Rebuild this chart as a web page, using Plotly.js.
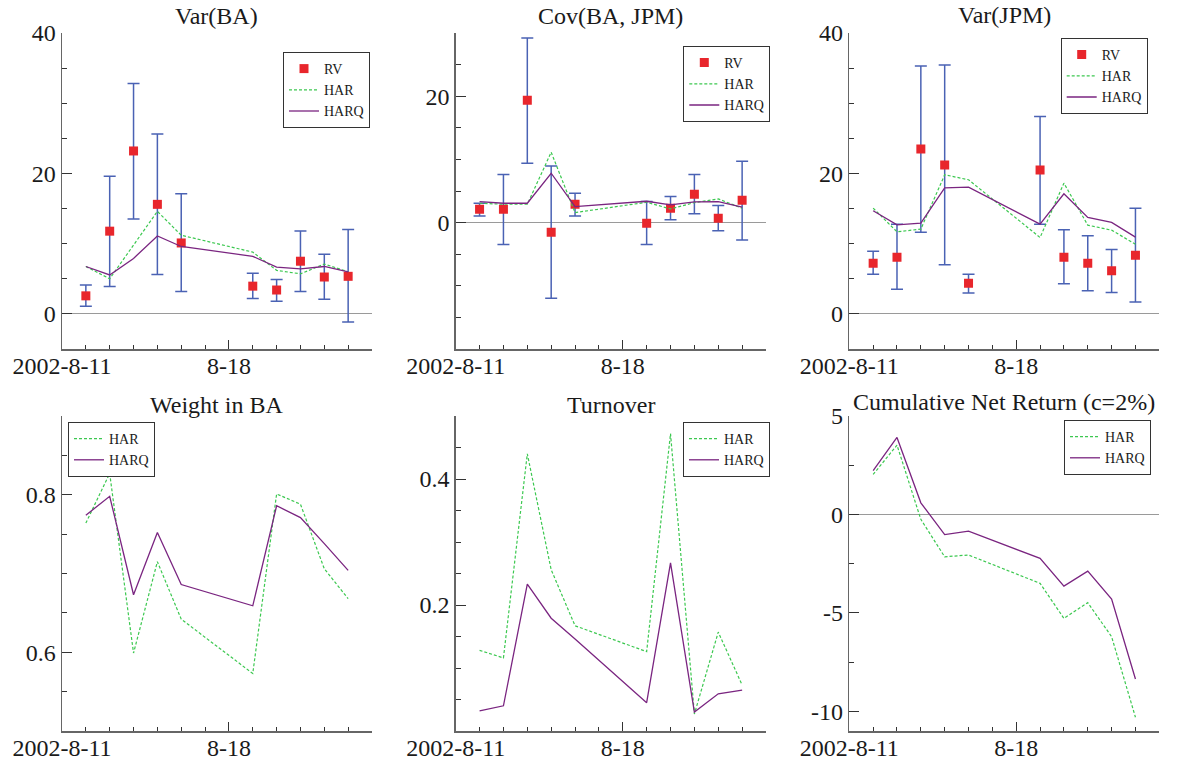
<!DOCTYPE html>
<html>
<head>
<meta charset="utf-8">
<script src="https://cdn.plot.ly/plotly-3.0.1.min.js"></script>
<style>
  html, body { margin: 0; padding: 0; background: #fff; }
  #chart { width: 1179px; height: 765px; }
</style>
</head>
<body>
<div id="chart"></div>
<script>
// ---------- data ----------
const dates = ['2002-08-12','2002-08-13','2002-08-14','2002-08-15','2002-08-16',
               '2002-08-19','2002-08-20','2002-08-21','2002-08-22','2002-08-23'];
const xTickVals = ['2002-08-11', '2002-08-18'];
const xTickText = ['2002-8-11', '8-18'];

// Var(BA)
const rvBA      = [2.57, 11.78, 23.2, 15.6, 10.1, 3.95, 3.4, 7.5, 5.25, 5.35];
const rvBAHigh  = [4.1, 19.6, 32.8, 25.6, 17.1, 5.8, 4.9, 11.8, 8.5, 12.0];
const rvBALow   = [1.1, 3.9, 13.5, 5.6, 3.2, 2.2, 1.8, 3.2, 2.1, -1.15];
const harBA     = [6.75, 5.0, 9.8, 14.6, 11.2, 8.8, 6.2, 5.7, 7.1, 6.0];
const harqBA    = [6.75, 5.55, 7.9, 11.1, 9.6, 8.2, 6.65, 6.4, 6.75, 6.0];

// Cov(BA, JPM)
const rvCov     = [2.11, 2.11, 19.37, -1.53, 2.9, -0.1, 2.27, 4.49, 0.69, 3.54];
const rvCovHigh = [3.06, 7.6, 29.2, 8.97, 4.64, 3.32, 4.12, 7.6, 2.69, 9.71];
const rvCovLow  = [1.06, -3.48, 9.39, -11.98, 1.06, -3.48, 0.47, 1.42, -1.27, -2.74];
const harCov    = [3.06, 2.9, 2.9, 11.13, 1.58, 3.22, 2.16, 3.17, 3.75, 2.27];
const harqCov   = [3.32, 3.06, 3.06, 7.81, 2.53, 3.38, 2.8, 3.27, 3.32, 2.43];

// Var(JPM)
const rvJPM     = [7.22, 8.08, 23.47, 21.19, 4.37, 20.48, 8.08, 7.22, 6.13, 8.36];
const rvJPMHigh = [8.93, 12.78, 35.3, 35.44, 5.65, 28.12, 11.97, 11.12, 9.17, 15.06];
const rvJPMLow  = [5.65, 3.52, 11.64, 6.98, 2.99, 12.78, 4.28, 3.28, 3.04, 1.71];
const harJPM    = [15.06, 11.69, 12.07, 19.81, 19.1, 10.88, 18.62, 12.64, 11.92, 9.93];
const harqJPM   = [14.68, 12.68, 12.92, 17.96, 18.05, 12.78, 17.1, 13.73, 13.02, 10.93];

// Weight in BA
const harWeight  = [0.764, 0.827, 0.599, 0.715, 0.642, 0.573, 0.801, 0.788, 0.706, 0.668];
const harqWeight = [0.774, 0.798, 0.673, 0.752, 0.686, 0.659, 0.786, 0.771, 0.738, 0.704];

// Turnover
const harTurn  = [0.128, 0.116, 0.44, 0.256, 0.167, 0.126, 0.472, 0.027, 0.157, 0.073];
const harqTurn = [0.032, 0.040, 0.233, 0.179, 0.146, 0.045, 0.267, 0.030, 0.059, 0.065];

// Cumulative Net Return (c=2%)
const harCum  = [2.03, 3.52, -0.25, -2.15, -2.06, -3.5, -5.28, -4.48, -6.21, -10.3];
const harqCum = [2.22, 3.91, 0.59, -1.02, -0.85, -2.23, -3.64, -2.88, -4.3, -8.36];

const titles = ['Var(BA)', 'Cov(BA, JPM)', 'Var(JPM)', 'Weight in BA', 'Turnover', 'Cumulative Net Return (c=2%)'];

// y tick values and labels (hyphen minus as in the original)
const yTickVals = [[0, 20, 40], [0, 20], [0, 20, 40], [0.6, 0.8], [0.2, 0.4], [-10, -5, 0, 5]];
const yTickText = [['0', '20', '40'], ['0', '20'], ['0', '20', '40'], ['0.6', '0.8'], ['0.2', '0.4'], ['-10', '-5', '0', '5']];

// ---------- style ----------
const W = 1179, H = 765;
const FONT = 'Liberation Serif';
const TXT = '#1a1a1a';
const RED = '#e8262c', GREEN = '#3cc850', PURPLE = '#7a2580', BLUE = '#4a62b4';

const px = v => v / W;
const py = v => 1 - v / H;
const colDom = [[px(62), px(372)], [px(455.7), px(766)], [px(849.3), px(1159.3)]];
const rowDom = [[py(349), py(33)], [py(731), py(416)]];

function diff(a, b) { return a.map((v, i) => v - b[i]); }

const traces = [];
function rvTrace(k, y, hi, lo, leg) {
  const ax = k === 1 ? '' : k;
  traces.push({
    type: 'scatter', mode: 'markers', name: 'RV', x: dates, y: y,
    xaxis: 'x' + ax, yaxis: 'y' + ax, legend: leg,
    marker: { symbol: 'square', size: 9, color: RED },
    error_y: { type: 'data', symmetric: false, array: diff(hi, y), arrayminus: diff(y, lo),
               color: BLUE, thickness: 1.5, width: 6 }
  });
}
function lineTraces(k, har, harq, leg) {
  const ax = k === 1 ? '' : k;
  traces.push({
    type: 'scatter', mode: 'lines', name: 'HAR', x: dates, y: har,
    xaxis: 'x' + ax, yaxis: 'y' + ax, legend: leg,
    line: { color: GREEN, width: 1.2, dash: '3px,2px' }
  });
  traces.push({
    type: 'scatter', mode: 'lines', name: 'HARQ', x: dates, y: harq,
    xaxis: 'x' + ax, yaxis: 'y' + ax, legend: leg,
    line: { color: PURPLE, width: 1.3 }
  });
}

rvTrace(1, rvBA, rvBAHigh, rvBALow, 'legend');
lineTraces(1, harBA, harqBA, 'legend');
rvTrace(2, rvCov, rvCovHigh, rvCovLow, 'legend2');
lineTraces(2, harCov, harqCov, 'legend2');
rvTrace(3, rvJPM, rvJPMHigh, rvJPMLow, 'legend3');
lineTraces(3, harJPM, harqJPM, 'legend3');
lineTraces(4, harWeight, harqWeight, 'legend4');
lineTraces(5, harTurn, harqTurn, 'legend5');
lineTraces(6, harCum, harqCum, 'legend6');

const yCfg = [
  { range: [-5, 40], minor: 5, zero: true },
  { range: [-20, 30], minor: 5, zero: true },
  { range: [-5, 40], minor: 5, zero: true },
  { range: [0.5, 0.9], minor: 0.05, zero: false },
  { range: [0, 0.5], minor: 0.05, zero: false },
  { range: [-11, 5], minor: 2.5, zero: true }
];

const layout = {
  width: W, height: H,
  margin: { l: 0, r: 0, t: 0, b: 0 },
  paper_bgcolor: '#fff', plot_bgcolor: '#fff',
  font: { family: FONT, color: TXT, size: 24 },
  showlegend: true,
  annotations: []
};

const titleY = [py(16), py(16), py(15), py(405), py(405), py(402)];

for (let k = 1; k <= 6; k++) {
  const c = (k - 1) % 3, r = Math.floor((k - 1) / 3);
  const ax = k === 1 ? '' : String(k);
  const cfg = yCfg[k - 1];
  layout['xaxis' + ax] = {
    type: 'date', domain: colDom[c], anchor: 'y' + ax,
    range: ['2002-08-11', '2002-08-24'],
    tickmode: 'array', tickvals: xTickVals, ticktext: xTickText,
    ticks: 'inside', ticklen: 9, tickwidth: 1, tickcolor: '#333',
    ticklabelstandoff: -5,
    minor: { tick0: '2002-08-11', dtick: 86400000, ticks: 'inside', ticklen: 4, tickcolor: '#333', tickwidth: 1, showgrid: false },
    showline: true, linecolor: '#666', linewidth: 1.5,
    showgrid: false, zeroline: false, fixedrange: true,
    tickfont: { family: FONT, size: 24, color: TXT }
  };
  layout['yaxis' + ax] = {
    domain: rowDom[r], anchor: 'x' + ax, range: cfg.range,
    tickmode: 'array', tickvals: yTickVals[k - 1], ticktext: yTickText[k - 1],
    ticks: 'inside', ticklen: 10, tickwidth: 1, tickcolor: '#333',
    minor: { tick0: 0, dtick: cfg.minor, ticks: 'inside', ticklen: 5, tickcolor: '#333', tickwidth: 1, showgrid: false },
    showline: true, linecolor: '#666', linewidth: 1.5,
    showgrid: false, zeroline: cfg.zero, zerolinecolor: '#9a9a9a', zerolinewidth: 1.2,
    fixedrange: true,
    tickfont: { family: FONT, size: 24, color: TXT }
  };
  layout.annotations.push({
    text: titles[k - 1], xref: 'paper', yref: 'paper',
    x: (colDom[c][0] + colDom[c][1]) / 2, y: titleY[k - 1],
    xanchor: 'center', yanchor: 'middle', showarrow: false,
    font: { family: FONT, size: 24, color: TXT }
  });
}

const legPos = [
  [px(283), py(52)], [px(683.3), py(46)], [px(1060.7), py(38)],
  [px(68), py(422)], [px(683), py(422)], [px(1064), py(420)]
];
legPos.forEach((p, i) => {
  const name = i === 0 ? 'legend' : 'legend' + (i + 1);
  layout[name] = {
    x: p[0], y: p[1], xanchor: 'left', yanchor: 'top',
    xref: 'paper', yref: 'paper',
    bgcolor: '#fff', bordercolor: '#333', borderwidth: 1,
    font: { family: FONT, size: 14, color: TXT },
    itemwidth: 30, tracegroupgap: 0
  };
});

Plotly.newPlot('chart', traces, layout, { displayModeBar: false, staticPlot: true });
</script>
</body>
</html>
